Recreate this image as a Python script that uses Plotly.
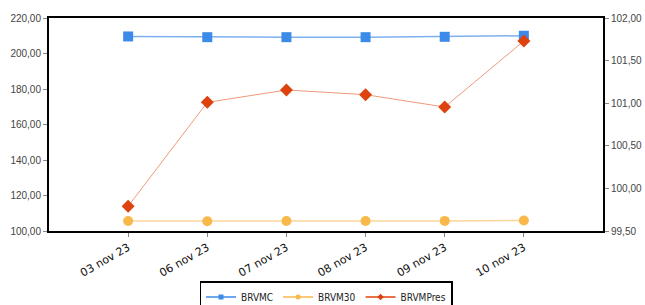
import plotly.graph_objects as go

dates = ["03 nov 23", "06 nov 23", "07 nov 23", "08 nov 23", "09 nov 23", "10 nov 23"]
brvmc = [209.6, 209.2, 209.2, 209.2, 209.4, 210.0]
brvm30 = [105.6, 105.5, 105.6, 105.6, 105.7, 105.9]
brvmpres = [99.79, 101.01, 101.155, 101.10, 100.955, 101.73]
left_ticks = [100, 120, 140, 160, 180, 200, 220]
right_ticks = [99.5, 100.0, 100.5, 101.0, 101.5, 102.0]

def fr(v):
    return f"{v:.2f}".replace(".", ",")

x = list(range(len(dates)))

series = [
    ("BRVMC", brvmc, "y", "square", "#3d8be9", "#7fb0ee", 1.5),
    ("BRVM30", brvm30, "y", "circle", "#f8b84a", "#fbd59a", 1.5),
    ("BRVMPres", brvmpres, "y2", "diamond", "#de420e", "#ef9a7a", 1.0),
]

fig = go.Figure()
for name, vals, ax, sym, mc, lc, lw in series:
    fig.add_trace(go.Scatter(x=x, y=vals, name=name, mode="lines+markers", yaxis=ax,
                             line=dict(color=lc, width=lw), showlegend=False,
                             marker=dict(symbol=sym, size=10, color=mc)))
# legend-only entries with small markers, like the reference legend
for name, vals, ax, sym, mc, lc, lw in series:
    fig.add_trace(go.Scatter(x=[None], y=[None], name=name, mode="lines+markers", yaxis=ax,
                             line=dict(color=mc, width=1.5),
                             marker=dict(symbol=sym, size=5, color=mc)))

tickfont = dict(family="Liberation Sans, Arial", size=10, color="#444444")
fig.update_layout(
    width=645, height=305,
    margin=dict(l=49, r=42, t=18, b=74),
    plot_bgcolor="white", paper_bgcolor="white",
    showlegend=True,
    legend=dict(orientation="h", x=0.5, xanchor="center", xref="paper",
                y=(305 - 281) / 305, yanchor="top", yref="container",
                bordercolor="black", borderwidth=1.5,
                font=dict(family="DejaVu Sans Condensed, DejaVu Sans", size=10, color="#222222"),
                itemwidth=30, tracegroupgap=0),
    xaxis=dict(range=[-1, 6], tickmode="array", tickvals=x, ticktext=dates,
               tickangle=-30, showgrid=False, zeroline=False, automargin=False,
               showline=True, linecolor="black", linewidth=2, mirror=True,
               ticks="outside", ticklen=4, tickcolor="#888888",
               tickfont=dict(family="DejaVu Sans", size=11, color="#111111")),
    yaxis=dict(range=[100, 220], tickmode="array", tickvals=left_ticks, automargin=False,
               ticktext=[fr(v) for v in left_ticks], showgrid=False, zeroline=False,
               showline=True, linecolor="black", linewidth=2,
               ticks="outside", ticklen=4, tickcolor="#888888", tickfont=tickfont),
    yaxis2=dict(range=[99.5, 102], overlaying="y", side="right", tickmode="array",
                tickvals=right_ticks, ticktext=[fr(v) for v in right_ticks], automargin=False,
                showgrid=False, zeroline=False, showline=True, linecolor="black", linewidth=2,
                ticks="outside", ticklen=4, tickcolor="#888888", tickfont=tickfont),
)
fig.write_html("out.html", config={"displayModeBar": False},
               post_script="document.body.style.margin='0';document.body.style.overflow='hidden';")
